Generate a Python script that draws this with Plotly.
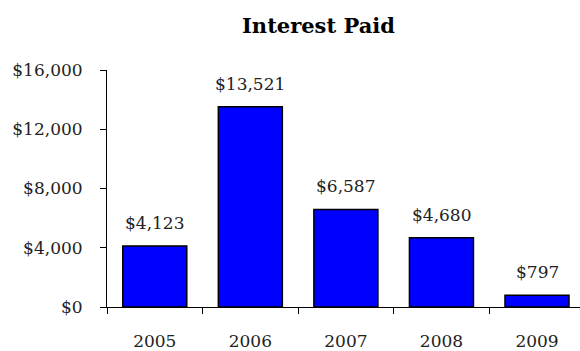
import plotly.graph_objects as go

# Interest paid per year (USD)
years = ["2005", "2006", "2007", "2008", "2009"]
interest_paid = [4123, 13521, 6587, 4680, 797]
y_ticks = [0, 4000, 8000, 12000, 16000]

FONT = "DejaVu Serif"
DOLLAR = "&#36;"  # entity keeps plotly from reading "$" as a TeX delimiter

fig = go.Figure(
    go.Bar(
        x=years,
        y=interest_paid,
        width=0.67,
        marker=dict(color="#0000FF", line=dict(color="#000000", width=1.5)),
        hoverinfo="skip",
    )
)

# value labels above each bar (x given as category index)
for i, val in enumerate(interest_paid):
    fig.add_annotation(
        x=i, y=val, xref="x", yref="y",
        text=f"{DOLLAR}{val:,}", showarrow=False,
        yanchor="bottom", yshift=11,
        font=dict(family=FONT, size=17, color="#222222"),
    )

fig.update_layout(
    width=580,
    height=351,
    margin=dict(l=107, r=0, t=70, b=44),
    paper_bgcolor="white",
    plot_bgcolor="white",
    showlegend=False,
    title=dict(
        text="<b>Interest Paid</b>",
        x=318.5 / 580, xref="container", xanchor="center",
        y=1 - 26 / 351, yref="container", yanchor="middle",
        font=dict(family=FONT, size=21, color="#000000"),
    ),
    xaxis=dict(
        type="category",
        range=[-0.5, 4.45],
        showline=True, linecolor="black", linewidth=1,
        ticks="outside", tickson="boundaries", ticklen=6, tickcolor="black",
        ticklabelstandoff=19,
        tickfont=dict(family=FONT, size=17, color="#222222"),
        showgrid=False, zeroline=False,
    ),
    yaxis=dict(
        range=[0, 16000],
        tickvals=y_ticks,
        ticktext=[f"{DOLLAR}{v:,}" for v in y_ticks],
        showline=True, linecolor="black", linewidth=1,
        ticks="outside", ticklen=6, tickcolor="black",
        ticklabelstandoff=14,
        tickfont=dict(family=FONT, size=17, color="#222222"),
        showgrid=False, zeroline=False,
    ),
)

fig.write_html("out.html")
